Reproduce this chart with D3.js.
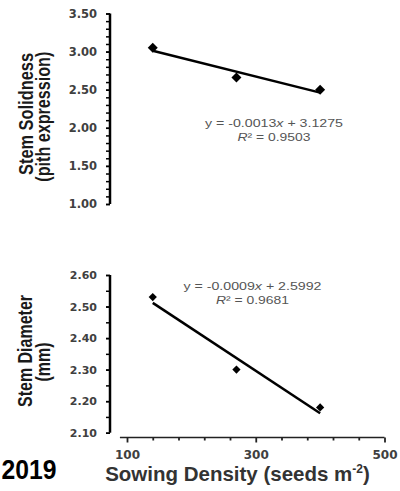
<!DOCTYPE html>
<html>
<head>
<meta charset="utf-8">
<script src="https://cdn.jsdelivr.net/npm/d3@7"></script>
<style>
  body { margin: 0; background: #fff; }
  svg { display: block; }
</style>
</head>
<body>
<div id="renderer"></div>
<script>
// Data
const density = [140, 270, 400];              // sowing density, seeds m-2
const solidness = [3.05, 2.66, 2.50];         // stem solidness (pith expression)
const diameter = [2.53, 2.30, 2.18];          // stem diameter (mm)

const xTicks = [100, 140, 180, 220, 260, 300, 340, 380, 420, 460, 500];
const xTickLabels = [100, 300, 500];
const solidTicks = [1.0, 1.5, 2.0, 2.5, 3.0, 3.5];
const diamTicks = [2.1, 2.2, 2.3, 2.4, 2.5, 2.6];

const solidEq = ["y = -0.0013x  + 3.1275", "R² = 0.9503"];
const diamEq = ["y = -0.0009x  + 2.5992", "R² = 0.9681"];

const width = 400;
const height = 491;

const svg = d3.select("#renderer")
    .append("svg")
    .attr("width", width)
    .attr("height", height);

const x = d3.scaleLinear().domain([100, 500]).range([127, 384.5]);
const yTop = d3.scaleLinear().domain([1, 3.5]).range([204, 13.5]);
const yBot = d3.scaleLinear().domain([2.1, 2.6]).range([432.7, 275]);

const axisX = 110;
const tickFont = "'DejaVu Sans', Verdana, sans-serif";
const labelFont = "'Liberation Sans', Arial, sans-serif";

// least squares fit of the points
function fit(xs, ys) {
    const mx = d3.mean(xs), my = d3.mean(ys);
    const slope = d3.sum(xs, (v, i) => (v - mx) * (ys[i] - my)) / d3.sum(xs, v => (v - mx) * (v - mx));
    return { slope: slope, intercept: my - slope * mx };
}

function yAxis(scale, major, minorStep, fmt, fontSize) {
    const [lo, hi] = scale.domain();
    const minor = d3.range(lo, hi + 1e-9, minorStep);
    const g = svg.append("g").attr("transform", `translate(${axisX},0)`);
    g.call(d3.axisLeft(scale).tickValues(minor).tickFormat("").tickSize(4))
        .call(s => s.select(".domain").remove());
    g.selectAll("line").attr("stroke", "#000").attr("stroke-width", 1.5);
    const m = svg.append("g").attr("transform", `translate(${axisX},0)`);
    m.call(d3.axisLeft(scale).tickValues(major).tickFormat(d3.format(fmt)).tickSize(4).tickPadding(9));
    m.select(".domain").attr("stroke", "#000").attr("stroke-width", 2.5)
        .attr("d", `M0,${scale(hi)}V${scale(lo)}`);
    m.selectAll("line").attr("stroke", "#000").attr("stroke-width", 1.5);
    m.selectAll("text")
        .attr("font-family", tickFont)
        .attr("font-weight", "bold")
        .attr("font-size", fontSize)
        .attr("fill", "#404040");
}

function panel(scale, values, eq, eqX, eqY, mark) {
    const f = fit(density, values);
    const x0 = d3.min(density), x1 = d3.max(density);
    const line = d3.line().x(d => x(d[0])).y(d => scale(d[1]));
    svg.append("path")
        .datum([[x0, f.intercept + f.slope * x0], [x1, f.intercept + f.slope * x1]])
        .attr("d", line)
        .attr("stroke", "#000")
        .attr("stroke-width", 2.5)
        .attr("fill", "none");

    svg.selectAll(null)
        .data(values)
        .join("path")
        .attr("d", d3.symbol(d3.symbolSquare, mark))
        .attr("transform", (d, i) => `translate(${x(density[i])},${scale(d)}) rotate(45)`)
        .attr("fill", "#000");

    const lens = [138, 73];
    eq.forEach((t, i) => {
        const txt = svg.append("text")
            .attr("x", eqX)
            .attr("y", eqY + i * 14)
            .attr("text-anchor", "middle")
            .attr("font-family", labelFont)
            .attr("font-size", 10.5)
            .attr("fill", "#555")
            .attr("textLength", lens[i])
            .attr("lengthAdjust", "spacingAndGlyphs");
        const parts = t.split(/(x|R)/);
        parts.forEach(p => {
            txt.append("tspan")
                .attr("font-style", (p === "x" || p === "R") ? "italic" : "normal")
                .text(p);
        });
    });
}

yAxis(yTop, solidTicks, 0.1, ".2f", 11.5);
yAxis(yBot, diamTicks, 0.05, ".2f", 11);

panel(yTop, solidness, solidEq, 274, 126.5, 50);
panel(yBot, diameter, diamEq, 252.5, 290, 34);

// x axis (bottom panel only)
const xg = svg.append("g").attr("transform", "translate(0,437.5)");
xg.call(d3.axisBottom(x).tickValues(xTicks)
        .tickFormat(d => xTickLabels.includes(d) ? d : "")
        .tickSize(3).tickPadding(10));
xg.select(".domain").attr("stroke", "#222").attr("stroke-width", 1.5)
    .attr("d", `M${x(89)},0H${x(500)}`);
xg.selectAll("line").attr("stroke", "#222").attr("stroke-width", 1.8)
    .attr("y2", d => xTickLabels.includes(d) ? 5 : 3);
xg.selectAll("text")
    .attr("font-family", tickFont)
    .attr("font-weight", "bold")
    .attr("font-size", 12)
    .attr("fill", "#404040");

// axis titles
function yTitle(lines, cy) {
    lines.forEach((l, i) => {
        svg.append("text")
            .attr("transform", `translate(${l.bx},${cy[i]}) rotate(-90)`)
            .attr("text-anchor", "middle")
            .attr("font-family", labelFont)
            .attr("font-weight", "bold")
            .attr("font-size", 21)
            .attr("fill", "#1a1a1a")
            .attr("textLength", l.len)
            .attr("lengthAdjust", "spacingAndGlyphs")
            .text(l.t);
    });
}
yTitle([{ t: "Stem Solidness", bx: 33, len: 122 }, { t: "(pith expression)", bx: 50, len: 130 }], [114, 116.7]);
yTitle([{ t: "Stem Diameter", bx: 32, len: 112 }, { t: "(mm)", bx: 50, len: 39 }], [351, 362]);

const xt = svg.append("text")
    .attr("x", 237.5)
    .attr("y", 481)
    .attr("text-anchor", "middle")
    .attr("font-family", labelFont)
    .attr("font-weight", "bold")
    .attr("font-size", 20.5)
    .attr("fill", "#333");
xt.append("tspan").text("Sowing Density (seeds m");
xt.append("tspan").attr("font-size", 12).attr("dy", -8).text("-2");
xt.append("tspan").attr("dy", 8).text(")");

svg.append("text")
    .attr("x", 1.5)
    .attr("y", 479)
    .attr("font-family", labelFont)
    .attr("font-weight", "bold")
    .attr("font-size", 28)
    .attr("fill", "#000")
    .attr("textLength", 55)
    .attr("lengthAdjust", "spacingAndGlyphs")
    .text("2019");
</script>
</body>
</html>
